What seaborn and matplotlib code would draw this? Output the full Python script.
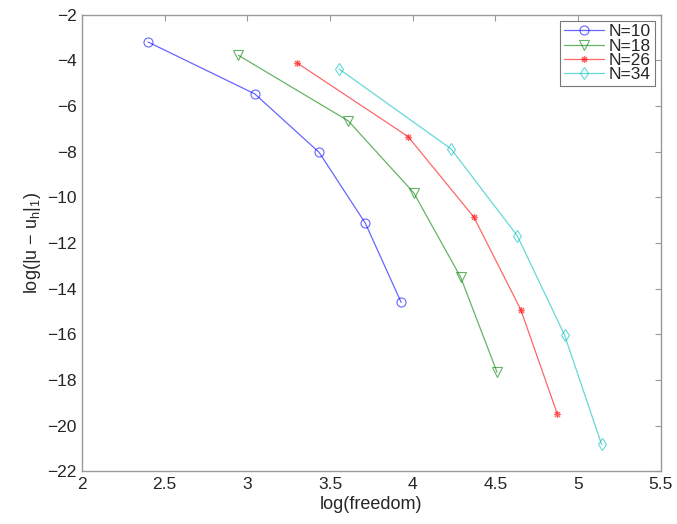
import numpy as np
import pandas as pd
import seaborn as sns
import matplotlib.pyplot as plt

# values
x_n10 = [2.40, 3.045, 3.434, 3.714, 3.93]
y_n10 = [-3.20, -5.47, -8.03, -11.14, -14.60]

x_n18 = [2.946, 3.61, 4.006, 4.29, 4.51]
y_n18 = [-3.78, -6.65, -9.80, -13.50, -17.66]

x_n26 = [3.30, 3.972, 4.37, 4.654, 4.874]
y_n26 = [-4.11, -7.34, -10.87, -14.93, -19.48]

x_n34 = [3.555, 4.232, 4.633, 4.918, 5.142]
y_n34 = [-4.38, -7.88, -11.69, -16.03, -20.82]

labels = ['N=10', 'N=18', 'N=26', 'N=34']
colors = ['#0000ff', '#008000', '#ff0000', '#00bfbf']
markers = ['o', 'v', (8, 2, 0), 'd']
msizes = [6.5, 6.5, 5, 6.5]

sns.set_style('white')
plt.rcParams['font.family'] = ['Liberation Sans', 'DejaVu Sans']
plt.rcParams['mathtext.default'] = 'regular'

fig = plt.figure(figsize=(6.77, 5.24), dpi=100)
ax = fig.add_axes([0.1211, 0.1006, 0.976 - 0.1211, 0.972 - 0.1006])

series = [(x_n10, y_n10), (x_n18, y_n18), (x_n26, y_n26), (x_n34, y_n34)]
for (xs, ys), lab, c, m, ms in zip(series, labels, colors, markers, msizes):
    df = pd.DataFrame({'x': xs, 'y': ys})
    sns.lineplot(data=df, x='x', y='y', ax=ax, color=c, marker=m, sort=False,
                 markersize=ms, mfc='none', mec=c, mew=0.8, lw=0.9,
                 alpha=0.6, label=lab)

ax.set_xlim(2, 5.5)
ax.set_ylim(-22, -2)
ax.set_xticks(np.arange(2, 5.51, 0.5))
ax.set_xticklabels(['2', '2.5', '3', '3.5', '4', '4.5', '5', '5.5'])
ax.set_yticks(np.arange(-22, -1, 2))
ax.set_yticklabels(['\u2212%d' % v for v in range(22, 1, -2)])

ax.set_xlabel('log(freedom)', fontsize=13, labelpad=3)
ax.set_ylabel('log(|u \u2212 u$_h$|$_1$)', fontsize=13, labelpad=3)

for sp in ax.spines.values():
    sp.set_color('#9a9a9a')
    sp.set_linewidth(1.0)
ax.tick_params(direction='in', length=4, width=0.8, color='#9a9a9a',
               top=True, right=True, labelsize=12.5, pad=4)

leg = ax.legend(loc='upper right', fancybox=False, framealpha=1,
                edgecolor='#777777', fontsize=12.5, handlelength=2.3,
                labelspacing=-0.05, borderpad=0.2, handletextpad=0.3,
                borderaxespad=0.35)
leg.get_frame().set_linewidth(0.8)

fig.savefig('out.png', dpi=100)
